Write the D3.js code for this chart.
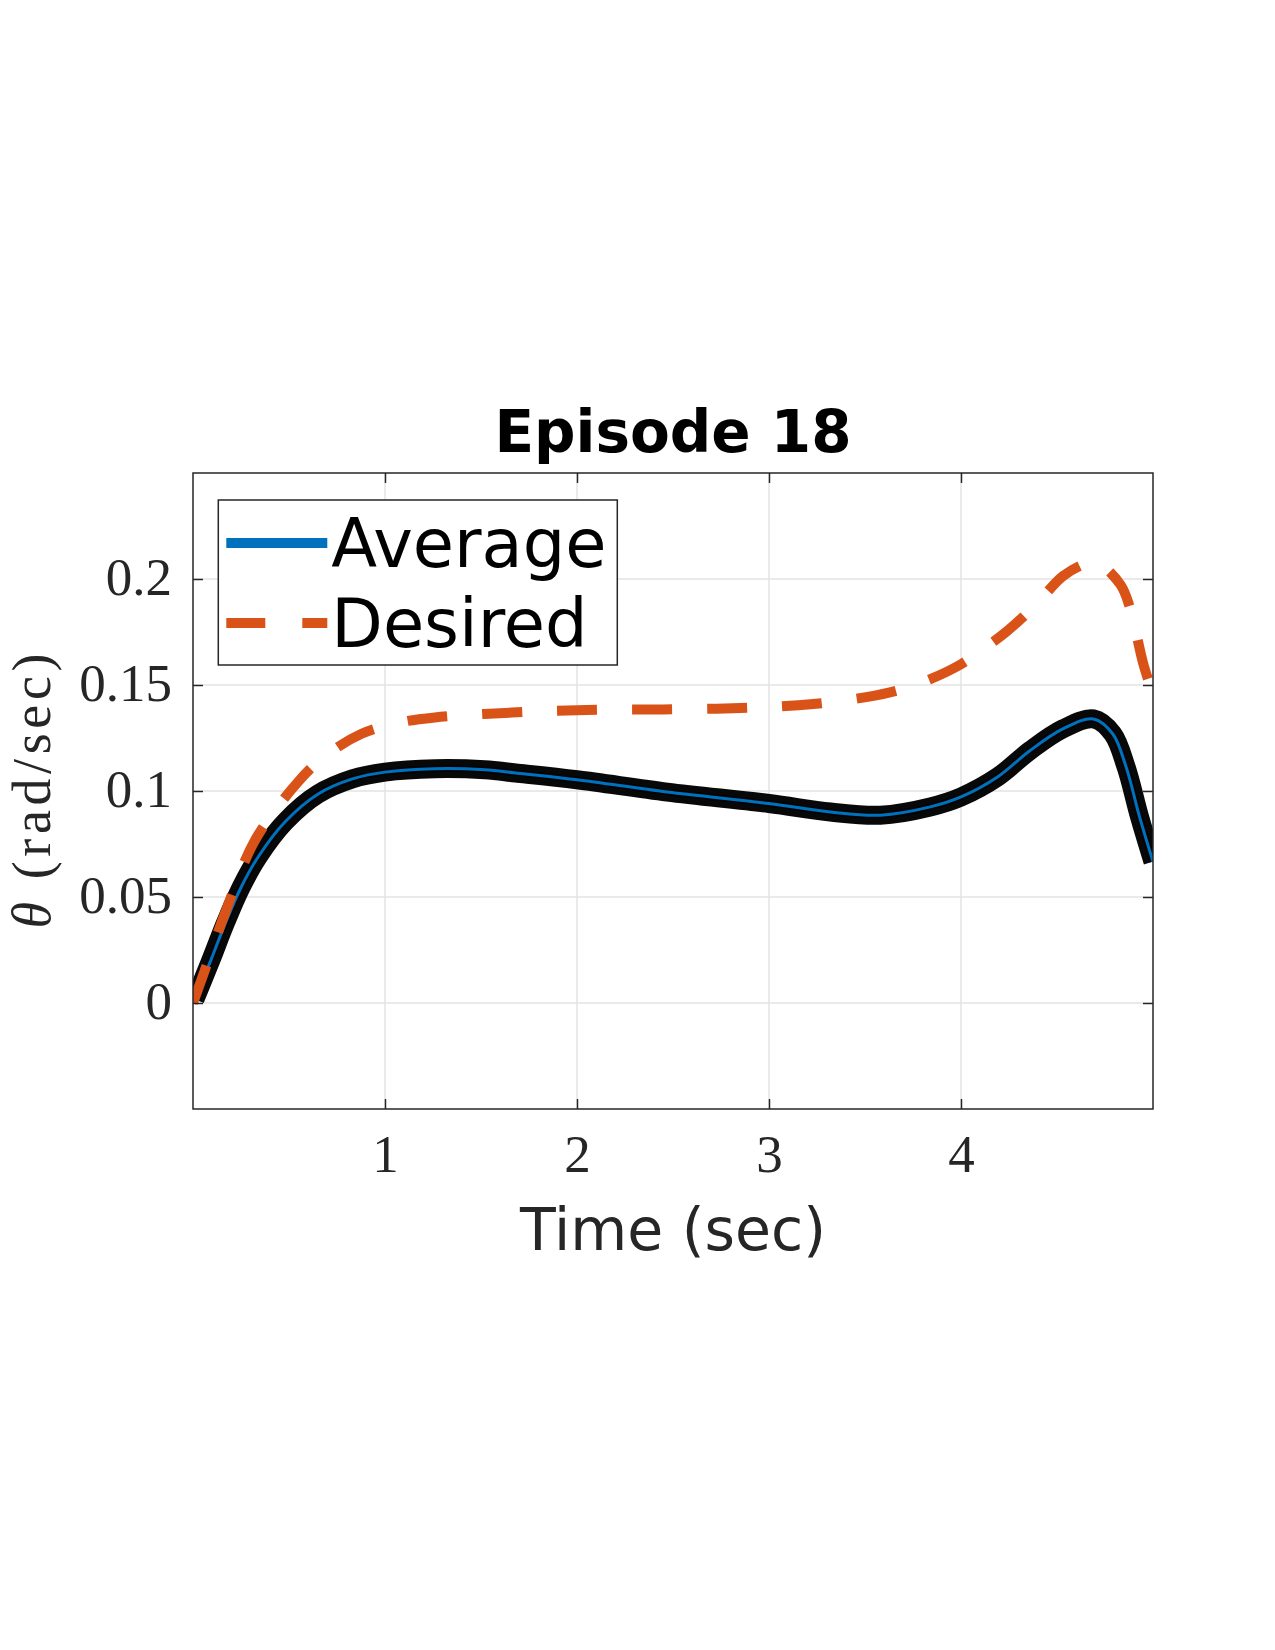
<!DOCTYPE html>
<html>
<head>
<meta charset="utf-8">
<script src="https://cdn.jsdelivr.net/npm/d3@7"></script>
<style>
	body { margin: 0; background: #fff; }
	svg { display: block; }
</style>
</head>
<body>
<div id="chart"></div>
<script>
// time (sec) and values
const avgTime = [0, 0.01, 0.09, 0.17, 0.25, 0.34, 0.48, 0.65, 0.83, 1.0, 1.26, 1.52, 1.68, 2.0, 2.47, 3.0, 3.32, 3.58, 3.84, 4.0, 4.19, 4.36, 4.53, 4.69, 4.79, 4.86, 4.93, 5.0]
const avgValue = [0, 0.0017, 0.0195, 0.038, 0.0545, 0.069, 0.0855, 0.0985, 0.1057, 0.1089, 0.1105, 0.110, 0.1085, 0.1053, 0.0995, 0.0941, 0.0901, 0.0886, 0.0925, 0.0972, 0.1066, 0.1191, 0.1293, 0.134, 0.127, 0.1113, 0.0878, 0.0667]

const desTime = [0, 0.054, 0.167, 0.323, 0.549, 0.688, 0.878, 1.07, 1.26, 1.686, 2.05, 2.45, 2.85, 3.23, 3.63, 3.84, 4.0, 4.1, 4.24, 4.39, 4.53, 4.64, 4.70, 4.83, 4.88, 4.95, 5.0]
const desValue = [0, 0.0135, 0.0424, 0.0768, 0.1045, 0.1165, 0.127, 0.1322, 0.1347, 0.1371, 0.1382, 0.1385, 0.1392, 0.141, 0.1465, 0.1528, 0.1598, 0.166, 0.1754, 0.188, 0.2013, 0.207, 0.2083, 0.1974, 0.1864, 0.1598, 0.1457]

const xTicks = [1, 2, 3, 4]
const yTicks = [0, 0.05, 0.1, 0.15, 0.2]
const yTickLabels = ['0', '0.05', '0.1', '0.15', '0.2']
const seriesNames = ['Average', 'Desired']

const W = 1275, H = 1650
const margins = { top: 473, left: 193, bottom: 541, right: 122 }
const innerWidth = W - margins.left - margins.right
const innerHeight = H - margins.top - margins.bottom

const blue = '#0072BD'
const orange = '#D95319'
const ink = '#262626'
const serif = '"Liberation Serif", "DejaVu Serif", serif'
const sans = '"DejaVu Sans", sans-serif'

const svg = d3.select('#chart')
	.append('svg')
	.attr('width', W)
	.attr('height', H)
	.attr('viewBox', `0 0 ${W} ${H}`)

svg.append('rect').attr('width', W).attr('height', H).attr('fill', '#fff')

const x = d3.scaleLinear().domain([0, 5]).range([0, innerWidth])
const y = d3.scaleLinear().domain([-0.05, 0.25]).range([innerHeight, 0])

const g = svg.append('g')
	.attr('transform', `translate(${margins.left}, ${margins.top})`)

// grid
g.append('g')
	.selectAll('line')
	.data(xTicks)
	.join('line')
	.attr('x1', (d) => x(d)).attr('x2', (d) => x(d))
	.attr('y1', 0).attr('y2', innerHeight)
	.attr('stroke', '#e3e3e3').attr('stroke-width', 1.5)

g.append('g')
	.selectAll('line')
	.data(yTicks)
	.join('line')
	.attr('x1', 0).attr('x2', innerWidth)
	.attr('y1', (d) => y(d)).attr('y2', (d) => y(d))
	.attr('stroke', '#e3e3e3').attr('stroke-width', 1.5)

// lines
svg.append('defs').append('clipPath').attr('id', 'plotClip')
	.append('rect').attr('width', innerWidth).attr('height', innerHeight)

const avgData = avgTime.map((t, i) => [t, avgValue[i]])
const desData = desTime.map((t, i) => [t, desValue[i]])

const line = d3.line()
	.x((d) => x(d[0]))
	.y((d) => y(d[1]))
	.curve(d3.curveCatmullRom.alpha(0.5))

const lines = g.append('g').attr('clip-path', 'url(#plotClip)')

lines.append('path')
	.attr('d', line(avgData))
	.attr('fill', 'none')
	.attr('stroke', blue)
	.attr('stroke-width', 7)

// spread of the episode runs, drawn over the average
lines.append('path')
	.attr('d', line(avgData.slice(1)))
	.attr('fill', 'none')
	.attr('stroke', '#000')
	.attr('stroke-width', 19)
	.attr('stroke-linejoin', 'round')
	.attr('opacity', 0.97)

lines.append('path')
	.attr('d', line(avgData))
	.attr('fill', 'none')
	.attr('stroke', blue)
	.attr('stroke-width', 3)

lines.append('path')
	.attr('d', line(desData))
	.attr('fill', 'none')
	.attr('stroke', orange)
	.attr('stroke-width', 10)
	.attr('stroke-dasharray', '40,35')

// axes (ticks pointing inward, on all four sides)
const styleAxis = (sel) => {
	sel.attr('font-size', null).attr('font-family', null)
	sel.select('.domain').remove()
	sel.selectAll('.tick line').attr('stroke', ink).attr('stroke-width', 1.5)
}

g.append('g')
	.attr('transform', `translate(0, ${innerHeight})`)
	.call(d3.axisBottom(x).tickValues(xTicks).tickSize(-10).tickSizeOuter(0).tickFormat(d3.format('d')))
	.call(styleAxis)
	.call((s) => s.selectAll('text')
		.attr('y', 63).attr('dy', null)
		.attr('fill', ink)
		.attr('font-family', serif)
		.attr('font-size', 53))

g.append('g')
	.call(d3.axisTop(x).tickValues(xTicks).tickSize(-10).tickSizeOuter(0).tickFormat(''))
	.call(styleAxis)

g.append('g')
	.call(d3.axisLeft(y).tickValues(yTicks).tickSize(-10).tickSizeOuter(0).tickFormat((d, i) => yTickLabels[i]))
	.call(styleAxis)
	.call((s) => s.selectAll('text')
		.attr('x', -21).attr('dy', '0.3em')
		.attr('fill', ink)
		.attr('font-family', serif)
		.attr('font-size', 53))

g.append('g')
	.attr('transform', `translate(${innerWidth}, 0)`)
	.call(d3.axisRight(y).tickValues(yTicks).tickSize(-10).tickSizeOuter(0).tickFormat(''))
	.call(styleAxis)

g.append('rect')
	.attr('width', innerWidth).attr('height', innerHeight)
	.attr('fill', 'none').attr('stroke', ink).attr('stroke-width', 1.5)

// legend
const legend = g.append('g').attr('transform', 'translate(25.3, 27)')
legend.append('rect')
	.attr('width', 399).attr('height', 165)
	.attr('fill', '#fff').attr('stroke', ink).attr('stroke-width', 1.5)

const legendRows = legend.selectAll('g')
	.data(seriesNames)
	.join('g')
	.attr('transform', (_, i) => `translate(0, ${43 + i * 80})`)

legendRows.append('line')
	.attr('x1', 8).attr('x2', 109)
	.attr('stroke', (_, i) => i === 0 ? blue : orange)
	.attr('stroke-width', 10)
	.attr('stroke-dasharray', (_, i) => i === 0 ? null : '39,37')

legendRows.append('text')
	.text((d) => d)
	.attr('x', 113)
	.attr('y', 24)
	.attr('fill', '#000')
	.attr('font-family', sans)
	.attr('font-size', 67)

// title and labels
svg.append('text')
	.text('Episode 18')
	.attr('x', margins.left + innerWidth / 2)
	.attr('y', 452)
	.attr('text-anchor', 'middle')
	.attr('fill', '#000')
	.attr('font-family', sans)
	.attr('font-weight', 'bold')
	.attr('font-size', 58)

svg.append('text')
	.text('Time (sec)')
	.attr('x', margins.left + innerWidth / 2)
	.attr('y', 1250)
	.attr('text-anchor', 'middle')
	.attr('fill', ink)
	.attr('font-family', sans)
	.attr('font-size', 58.5)

const yLabel = svg.append('text')
	.attr('transform', `translate(50, ${margins.top + innerHeight / 2}) rotate(-90)`)
	.attr('text-anchor', 'middle')
	.attr('fill', ink)
	.attr('textLength', 275)
	.attr('lengthAdjust', 'spacing')
	.attr('font-family', serif)
	.attr('font-size', 54)
yLabel.append('tspan').text('θ').attr('font-style', 'italic')
yLabel.append('tspan').text(' (rad/sec)')
</script>
</body>
</html>
